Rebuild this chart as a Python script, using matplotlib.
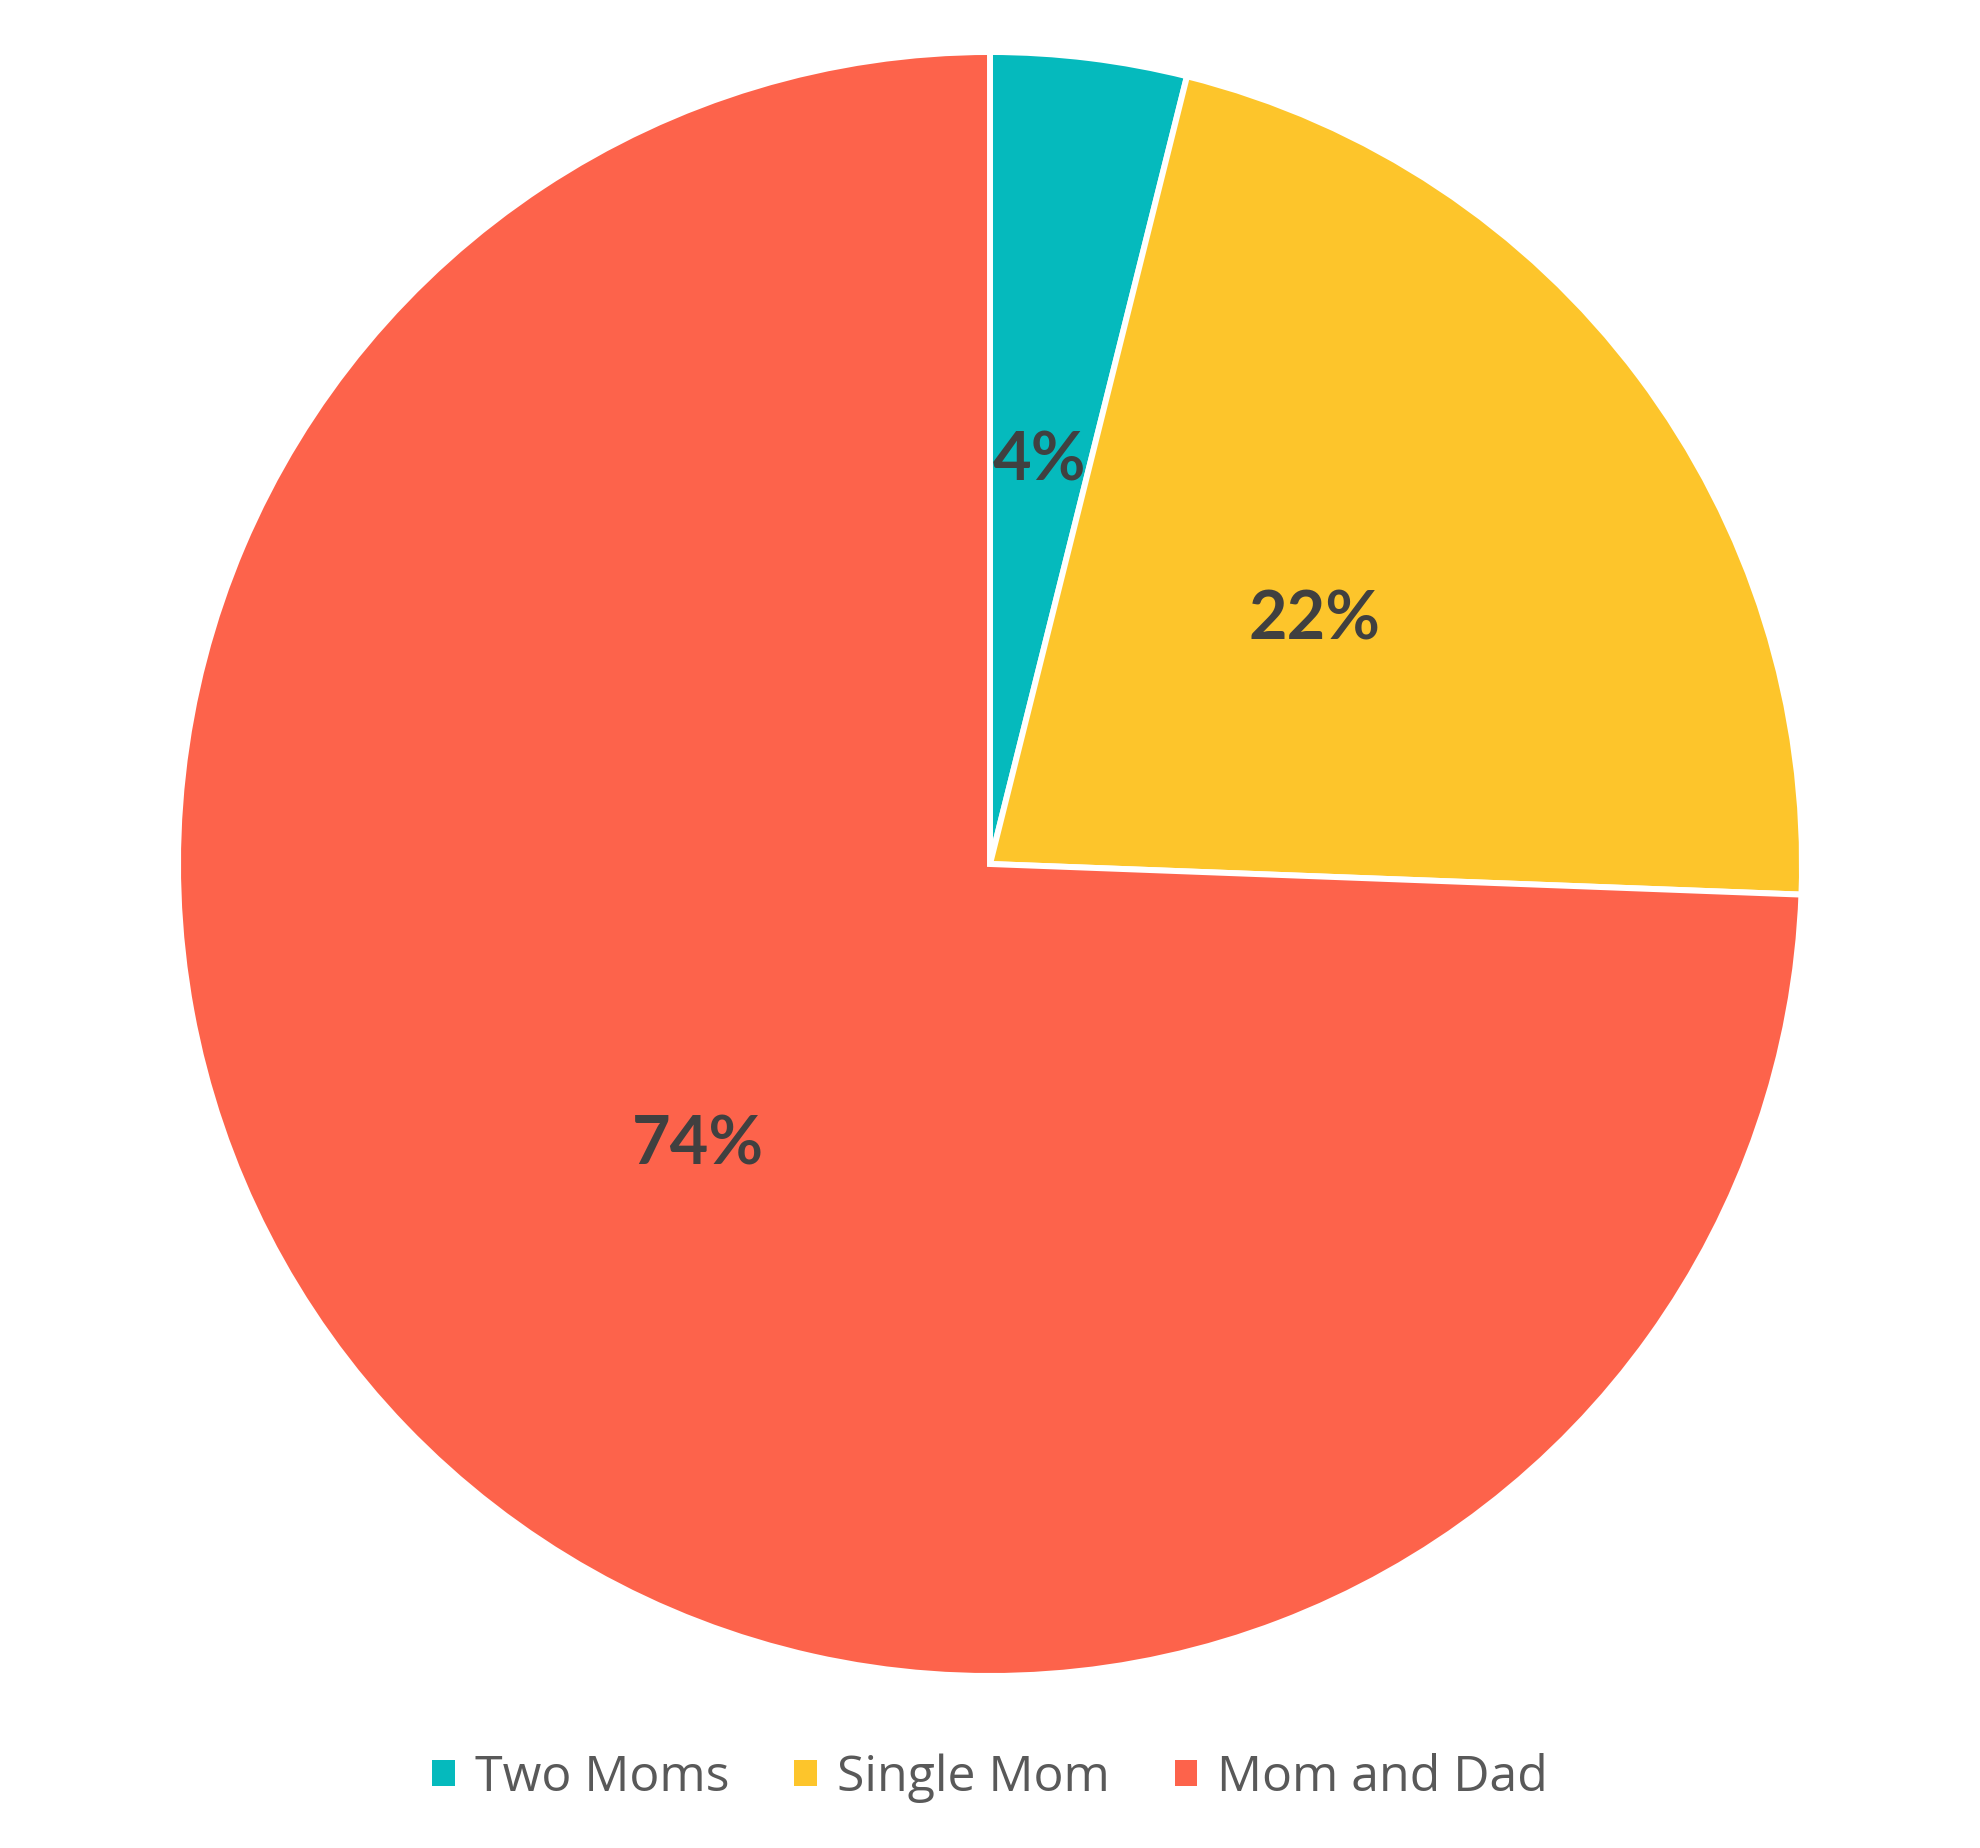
import matplotlib
matplotlib.use("Agg")
import matplotlib.pyplot as plt
from matplotlib.patches import Patch

categories = ["Two Moms", "Single Mom", "Mom and Dad"]
values = [3.9, 21.7, 74.4]
colors = ["#05BABD", "#FDC52B", "#FD634B"]

W, H, DPI = 1980, 1848, 100
fig = plt.figure(figsize=(W / DPI, H / DPI), dpi=DPI)
fig.patch.set_facecolor("white")

cx, cy, r = 990, 864, 812
ax = fig.add_axes([(cx - r) / W, (H - cy - r) / H, 2 * r / W, 2 * r / H])

wedges, texts, autotexts = ax.pie(
    values,
    colors=colors,
    startangle=90,
    counterclock=False,
    radius=1,
    center=(0, 0),
    autopct=lambda p: f"{p:.0f}%",
    pctdistance=0.5,
    wedgeprops=dict(edgecolor="white", linewidth=4.3),
    textprops=dict(fontsize=48, fontweight="bold", color="#404040",
                   family=["Lato", "DejaVu Sans"]),
    frame=False,
)
ax.set_xlim(-1, 1)
ax.set_ylim(-1, 1)
ax.set_aspect("equal")
ax.axis("off")

handles = [Patch(facecolor=c, edgecolor="none") for c in colors]
fig.legend(
    handles, categories,
    loc="center", bbox_to_anchor=(0.5, 1 - 1778 / H),
    ncol=3, frameon=False,
    prop=dict(family=["Open Sans", "DejaVu Sans"], size=36),
    labelcolor="#595959",
    handlelength=0.45, handleheight=0.45,
    handletextpad=0.4, columnspacing=1.3,
)

fig.savefig("out.png", dpi=DPI, facecolor="white")
